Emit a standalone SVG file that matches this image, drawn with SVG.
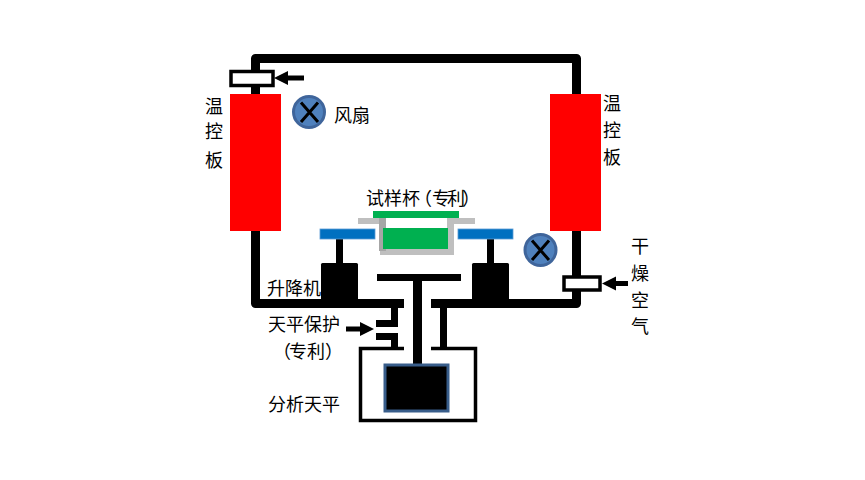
<svg xmlns="http://www.w3.org/2000/svg" width="865" height="480" viewBox="0 0 865 480">
  <style>
    .pipe { fill: none; stroke: #000; stroke-width: 9; stroke-linejoin: round; }
    .thin { fill: none; stroke: #000; stroke-width: 7; }
    .flow { fill: none; stroke: #000; stroke-width: 5; }
    .heater { fill: #f00; }
    .valve { fill: #fff; stroke: #000; stroke-width: 3.5; }
    .stage { fill: #0070c0; stroke: #5b9bd5; stroke-width: .8; }
    .cup { fill: #bfbfbf; }
    .sample { fill: #00b050; }
    .fan-disc { fill: #4f81bd; stroke: #3f659b; stroke-width: 3; }
    .fan-x { stroke: #000; stroke-width: 3; stroke-linecap: butt; }
    text { font-family: "Noto Sans CJK SC", "Liberation Sans", sans-serif; font-size: 18px; fill: #000; }
  </style>
  <defs>
    <marker id="head" markerUnits="userSpaceOnUse" markerWidth="15" markerHeight="15" refX="0" refY="7.5" orient="auto">
      <path d="M0 .5L14 7.5L0 14.500Z" fill="#000"/>
    </marker>
  </defs>
  <rect width="865" height="480" fill="#fff"/>

  <g id="connectors">
    <path class="pipe" d="M255.500 94V58.500H576.500V94"/>
    <path class="pipe" d="M255.500 231V303.500H404"/>
    <path class="pipe" d="M431 303.500H576.500V231"/>
    <path class="thin" d="M339.500 239V265"/>
    <path class="thin" d="M490.500 239V265"/>
    <path d="M377 277.500H461" stroke="#000" stroke-width="7" fill="none"/>
    <path class="pipe" d="M417.500 277V366"/>
    <path class="thin" d="M394.500 308V323.500H376"/>
    <path class="thin" d="M376 336.500H394.500V348"/>
    <path class="thin" d="M443.500 308V348"/>
    <path class="flow" d="M304 78H288" marker-end="url(#head)"/>
    <path class="flow" d="M628 283.500H616" marker-end="url(#head)"/>
    <path class="flow" d="M346 329H360" marker-end="url(#head)"/>
  </g>

  <g id="heater-left"><rect class="heater" x="230" y="94" width="51" height="137"/></g>
  <g id="heater-right"><rect class="heater" x="550" y="94" width="51" height="137"/></g>
  <g id="valve-top"><rect class="valve" x="231" y="71.500" width="42" height="14"/></g>
  <g id="valve-right"><rect class="valve" x="564" y="277" width="36" height="13"/></g>

  <g id="fan-top">
    <circle class="fan-disc" cx="309" cy="112" r="15.500"/>
    <path class="fan-x" d="M301 102.500L318 122M318 102.500L301 122"/>
  </g>
  <g id="fan-bottom">
    <circle class="fan-disc" cx="540.500" cy="250" r="15.500"/>
    <path class="fan-x" d="M532 240.500L549 260M549 240.500L532 260"/>
  </g>

  <g id="sample-cup">
    <path class="cup" d="M358 218H386V249H447V218H475V224H454V255H380V224H358Z"/>
    <rect x="379" y="218" width="7" height="33" fill="#a6a6a6"/>
    <rect class="sample" x="383" y="228" width="65" height="21"/>
    <rect class="sample" x="373" y="211" width="86" height="7"/>
  </g>

  <g id="stage-left"><rect class="stage" x="320" y="229" width="55" height="10"/></g>
  <g id="stage-right"><rect class="stage" x="458" y="229" width="55" height="10"/></g>
  <g id="lift-left"><rect x="321" y="263" width="37" height="38" rx="1.500" fill="#000"/></g>
  <g id="lift-right"><rect x="472" y="263" width="37" height="38" rx="1.500" fill="#000"/></g>

  <g id="balance">
    <path d="M404 348.500H360.500V420.500H475.500V348.500H431" fill="none" stroke="#000" stroke-width="3.500"/>
    <rect x="385" y="365" width="63" height="46" fill="#000" stroke="#385d8a" stroke-width="3"/>
  </g>

  <g id="labels">
    <text x="205" y="113">温</text>
    <text x="205" y="138">控</text>
    <text x="205" y="167">板</text>
    <text x="603" y="110">温</text>
    <text x="603" y="137">控</text>
    <text x="603" y="164">板</text>
    <text x="334" y="122">风扇</text>
    <text x="366 384 402 414 432 447 462" y="205">试样杯（专利）</text>
    <text x="267" y="295">升降机</text>
    <text x="268" y="331">天平保护</text>
    <text x="273 289 307 325" y="358">（专利）</text>
    <text x="268" y="411">分析天平</text>
    <text x="631" y="253">干</text>
    <text x="631" y="280">燥</text>
    <text x="631" y="307">空</text>
    <text x="631" y="333">气</text>
  </g>
</svg>
